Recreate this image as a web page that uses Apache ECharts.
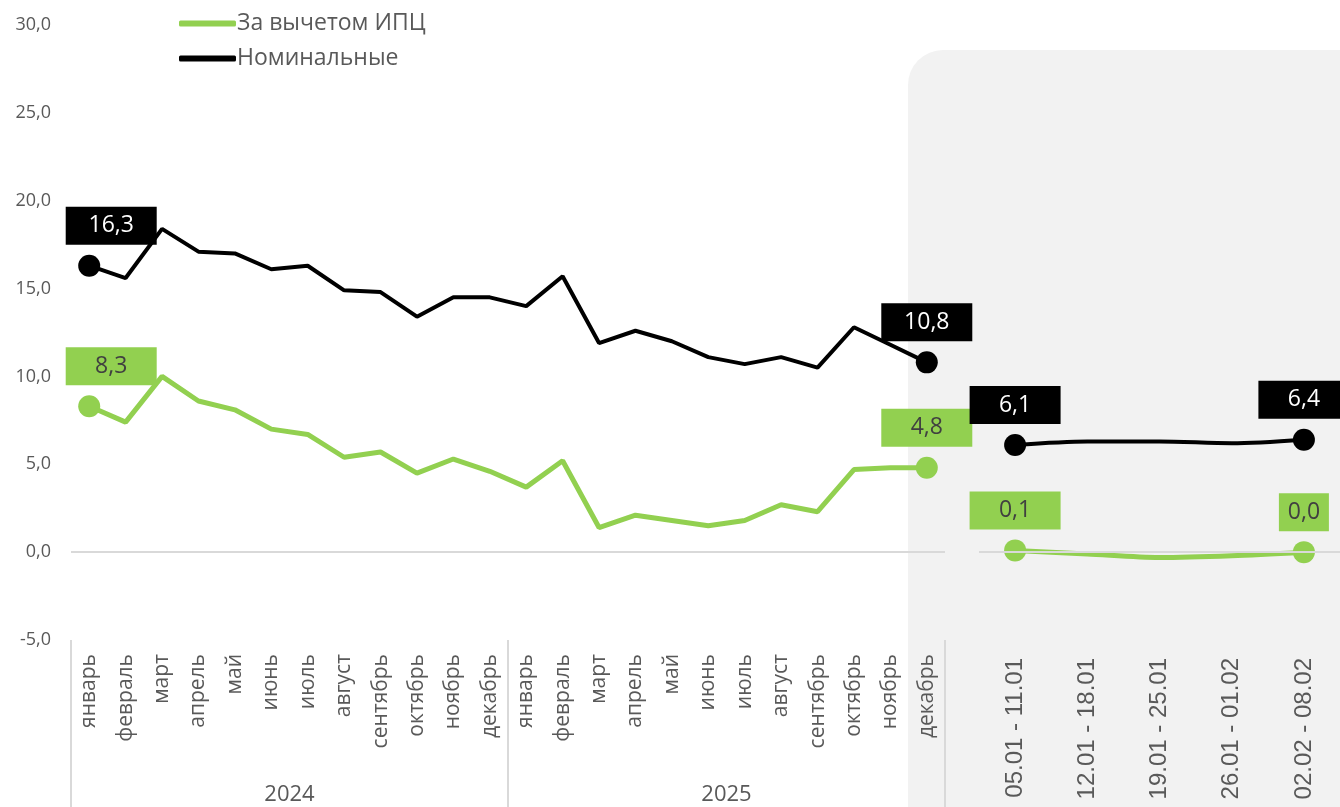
<!DOCTYPE html>
<html>
<head>
<meta charset="utf-8">
<script src="https://cdn.jsdelivr.net/npm/echarts@6/dist/echarts.min.js"></script>
<style>
html,body{margin:0;padding:0;background:#fff;}
#chart{width:1340px;height:807px;}
</style>
</head>
<body>
<div id="chart"></div>
<script>
// ---- data ----
var monthCategories = ['январь','февраль','март','апрель','май','июнь','июль','август','сентябрь','октябрь','ноябрь','декабрь',
                       'январь','февраль','март','апрель','май','июнь','июль','август','сентябрь','октябрь','ноябрь','декабрь'];
var yearCategories = ['2024','2025'];
var weekCategories = ['05.01 - 11.01','12.01 - 18.01','19.01 - 25.01','26.01 - 01.02','02.02 - 08.02'];
var nominalMonthly = [16.3,15.6,18.4,17.1,17.0,16.1,16.3,14.9,14.8,13.4,14.5,14.5,
                      14.0,15.7,11.9,12.6,12.0,11.1,10.7,11.1,10.5,12.8,11.8,10.8];
var realMonthly = [8.3,7.4,10.0,8.6,8.1,7.0,6.7,5.4,5.7,4.5,5.3,4.6,
                   3.7,5.2,1.4,2.1,1.8,1.5,1.8,2.7,2.3,4.7,4.8,4.8];
var nominalWeekly = [6.1,6.3,6.3,6.2,6.4];
var realWeekly = [0.1,-0.1,-0.3,-0.2,0.0];
var yTicks = {min:-5, max:30, interval:5};
var seriesNames = ['За вычетом ИПЦ','Номинальные'];

var GREEN = '#92d050', BLACK = '#000000', GRAY_TEXT = '#595959';
var FONT = '"Open Sans", "Noto Sans", sans-serif';

function fmt(v){ return v.toFixed(1).replace('.', ','); }

function decorate(arr, boxColor, textColor, firstOffset, widths){
  var last = arr.length - 1;
  return arr.map(function(v, i){
    if (i !== 0 && i !== last) return v;
    var w = (widths && widths[i === 0 ? 0 : 1]) || 91;
    return {
      value: v,
      symbol: 'circle',
      symbolSize: 22,
      label: {
        show: true,
        position: 'top',
        distance: 10,
        offset: [i === 0 ? firstOffset : 0, 0],
        formatter: function(p){ return fmt(p.value); },
        backgroundColor: boxColor,
        color: textColor,
        fontFamily: FONT,
        fontSize: 23,
        width: w,
        height: 38,
        lineHeight: 38,
        align: 'center',
        padding: 0
      }
    };
  });
}

var markZero = {
  silent: true,
  symbol: ['none','none'],
  label: {show:false},
  lineStyle: {color:'#d9d9d9', width:2, type:'solid'},
  data: [{yAxis: 0}],
  animation: false
};

var chart = echarts.init(document.getElementById('chart'));
chart.setOption({
  animation: false,
  backgroundColor: '#ffffff',
  graphic: [{
    type: 'rect',
    z: -10,
    shape: {x: 908, y: 50, width: 432, height: 757, r: [35,0,0,0]},
    style: {fill: '#f2f2f2'}
  }],
  legend: {
    orient: 'vertical',
    left: 174,
    top: 7,
    itemWidth: 57,
    itemHeight: 6,
    itemGap: 12,
    icon: 'roundRect',
    textStyle: {fontFamily: FONT, fontSize: 23, color: GRAY_TEXT, padding:[0,0,0,-4]},
    data: [
      {name: seriesNames[0], itemStyle:{color: GREEN}},
      {name: seriesNames[1], itemStyle:{color: BLACK}}
    ]
  },
  grid: [
    {left: 71, right: 1340 - 945, top: 25, bottom: 167},
    {left: 979, right: 0, top: 25, bottom: 167}
  ],
  xAxis: [
    {
      type: 'category', gridIndex: 0, data: monthCategories, boundaryGap: true,
      axisLine: {show: false, onZero: false},
      axisTick: {show: true, interval: function(i){ return i % 12 === 0; }, length: 167,
                 lineStyle: {color: '#d9d9d9', width: 2}},
      axisLabel: {rotate: 90, margin: 14, interval: 0, fontFamily: FONT, fontSize: 21, color: GRAY_TEXT}
    },
    {
      type: 'category', gridIndex: 0, data: yearCategories, position: 'bottom', offset: 138,
      axisLine: {show: false, onZero: false}, axisTick: {show: false},
      axisLabel: {margin: 6, fontFamily: FONT, fontSize: 22, color: GRAY_TEXT}
    },
    {
      type: 'category', gridIndex: 1, data: weekCategories, boundaryGap: true,
      axisLine: {show: false, onZero: false}, axisTick: {show: false},
      axisLabel: {rotate: 90, margin: 18, interval: 0, fontFamily: '"Liberation Sans", Arial, sans-serif', fontSize: 24, color: GRAY_TEXT}
    }
  ],
  yAxis: [
    {
      type: 'value', gridIndex: 0, min: yTicks.min, max: yTicks.max, interval: yTicks.interval,
      axisLine: {show: false}, axisTick: {show: false}, splitLine: {show: false},
      axisLabel: {margin: 20, fontFamily: FONT, fontSize: 18, color: GRAY_TEXT, formatter: function(v){ return fmt(v); }}
    },
    {
      type: 'value', gridIndex: 1, min: yTicks.min, max: yTicks.max, interval: yTicks.interval,
      axisLine: {show: false}, axisTick: {show: false}, splitLine: {show: false}, axisLabel: {show: false}
    }
  ],
  series: [
    {
      name: seriesNames[0], type: 'line', xAxisIndex: 0, yAxisIndex: 0, z: 3,
      symbol: 'none', lineStyle: {color: GREEN, width: 5}, itemStyle: {color: GREEN},
      data: decorate(realMonthly, GREEN, '#404040', 22),
      markLine: markZero
    },
    {
      name: seriesNames[1], type: 'line', xAxisIndex: 0, yAxisIndex: 0, z: 4,
      symbol: 'none', lineStyle: {color: BLACK, width: 4}, itemStyle: {color: BLACK},
      data: decorate(nominalMonthly, BLACK, '#ffffff', 22)
    },
    {
      name: seriesNames[0], type: 'line', xAxisIndex: 2, yAxisIndex: 1, z: 3, smooth: 0.3,
      symbol: 'none', lineStyle: {color: GREEN, width: 5}, itemStyle: {color: GREEN},
      data: decorate(realWeekly, GREEN, '#404040', 0, [91, 50]),
      markLine: markZero
    },
    {
      name: seriesNames[1], type: 'line', xAxisIndex: 2, yAxisIndex: 1, z: 4, smooth: 0.3,
      symbol: 'none', lineStyle: {color: BLACK, width: 4}, itemStyle: {color: BLACK},
      data: decorate(nominalWeekly, BLACK, '#ffffff', 0)
    }
  ]
});
</script>
</body>
</html>
